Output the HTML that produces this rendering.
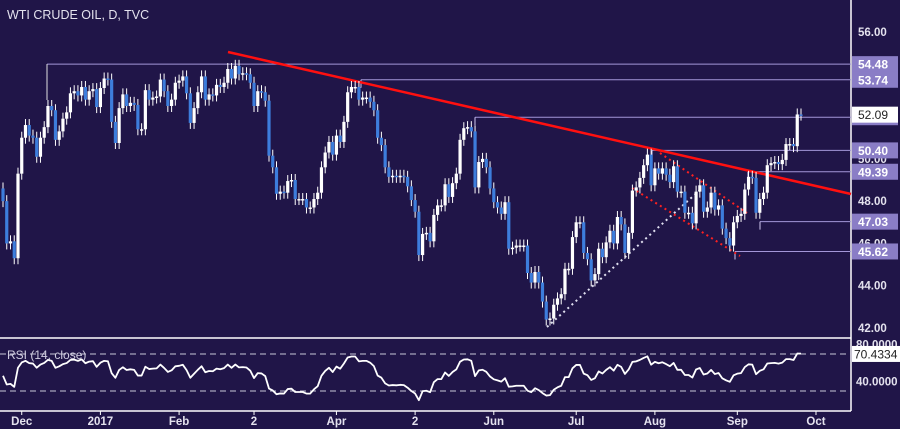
<!DOCTYPE html>
<html><head><meta charset="utf-8"><style>
html,body{margin:0;padding:0;background:#201548;}
svg{display:block;font-family:"Liberation Sans",sans-serif;}
</style></head><body>
<svg id="chart" width="900" height="429" viewBox="0 0 900 429">
<rect x="0" y="0" width="900" height="429" fill="#201548"/>
<text x="7" y="19" font-size="12.5" fill="#e4e2ee">WTI CRUDE OIL, D, TVC</text>
<g id="main"></g>
</svg>
<script>
const closes = [48.0,46.0,46.1,45.3,49.3,51.0,51.6,51.1,51.0,50.1,51.0,51.5,52.5,52.3,50.9,51.3,51.9,52.2,53.1,53.2,53.0,53.4,52.8,53.2,53.3,
52.45,53.35,53.8,53.75,51.75,50.75,52.4,53.05,52.5,52.65,52.55,51.4,51.4,53.25,52.8,52.9,52.95,53.75,53.2,52.5,52.8,53.6,53.7,53.9,53.1,51.7,52.4,53.15,53.9,52.8,53.05,53.0,53.5,53.4,53.6,54.25,53.8,54.4,54.0,54.05,54.0,53.6,52.5,53.2,53.15,52.75,50.15,49.6,48.35,48.45,48.4,
48.95,49.0,48.1,48.1,48.1,47.7,47.7,48.1,48.4,49.6,50.3,50.8,50.2,51.1,50.8,51.75,53.15,53.4,53.4,52.8,52.9,52.9,52.7,52.3,51.0,50.65,49.6,49.15,49.2,49.15,49.2,49.15,48.7,48.05,47.5,45.45,46.45,46.5,46.1,47.35,47.8,47.8,48.8,48.2,48.85,49.3,50.9,51.45,51.5,51.3,48.65,49.85,50.0,49.6,48.6,47.95,47.7,47.4,47.95,45.75,45.8,45.9,45.9,45.9,44.6,44.15,44.65,44.15,43.25,42.4,42.45,43.1,43.4,43.6,44.8,44.8,46.3,47.0,47.0,45.55,45.25,44.25,44.55,45.75,45.35,46.05,46.6,46.0,
47.25,46.9,45.55,46.5,48.5,48.65,49.1,49.7,50.2,48.75,49.55,49.3,49.55,49.25,48.9,49.65,48.45,48.45,47.45,47.45,46.95,48.45,48.75,47.5,47.7,48.4,47.6,47.8,46.7,46.25,45.9,47.0,47.3,47.4,48.55,49.15,49.1,47.45,48.1,48.4,49.7,49.8,49.85,49.75,49.95,50.7,50.7,50.6,52.1,52.09];
const firstOpen = 48.6;
const priceTicks = [56, 48, 44, 42, 50, 46];
const levelValues = [54.48, 53.74, 51.97, 50.40, 49.39, 47.03, 45.62];
const levelStartX = [47, 361, 475, 652, 748, 760, 735];
const dateLabels = ["Dec","2017","Feb","2","Apr","2","Jun","Jul","Aug","Sep","Oct"];
const dateBarIdx = [5,26,47,67,89,110,131,153,174,196,217];
const rsiTicks = [80, 40];
const lastClose = 52.09;

const NS="http://www.w3.org/2000/svg";
const g=document.getElementById('main');
function mk(tag,attrs,parent){const e=document.createElementNS(NS,tag);for(const k in attrs)e.setAttribute(k,attrs[k]);(parent||g).appendChild(e);return e;}
const AX=851, step=798/(closes.length-1);
const xOf=i=>3+i*step;
const yOf=p=>32+(56-p)*21.143;
const rY=v=>381.7-(v-40)*0.925;

let e;
e=mk('line',{x1:0,y1:338,x2:AX,y2:338,stroke:'#ffffff','stroke-width':1.5});

e=mk('line',{x1:0,y1:411,x2:AX,y2:411,stroke:'#ffffff','stroke-width':1.5});

e=mk('line',{x1:AX,y1:0,x2:AX,y2:411,stroke:'#ffffff','stroke-width':1.5});


priceTicks.forEach(p=>{
  const t=mk('text',{x:858,y:yOf(p)+4,'font-size':11.5,'font-weight':'bold',fill:'#e4e2ee'});
  t.textContent=p.toFixed(2);
  
});

dateLabels.forEach((d,k)=>{
  const x=xOf(dateBarIdx[k]);
  const tk=mk('line',{x1:x,y1:411,x2:x,y2:415,stroke:'#fff','stroke-width':1});
  
  const t=mk('text',{x:x,y:425,'font-size':11.5,'font-weight':'bold',fill:'#e4e2ee','text-anchor':'middle'});
  t.textContent=d;
  
});

levelValues.forEach((v,k)=>{
  const y=yOf(v), x0=levelStartX[k];
  const l=mk('line',{x1:x0,y1:y,x2:AX,y2:y,stroke:'#a396d8','stroke-width':1});
  
  const v2=mk('line',{x1:x0,y1:y,x2:x0,y2:y+8,stroke:'#d0c8f0','stroke-width':1});
  
});
{const l=mk('line',{x1:47,y1:yOf(54.48),x2:47,y2:100,stroke:'#e0e0e0','stroke-width':1});
}

e=mk('line',{x1:228,y1:52,x2:AX,y2:194,stroke:'#ff1010','stroke-width':2.5});

e=mk('line',{x1:547,y1:327,x2:700,y2:190,stroke:'#e0e0f0','stroke-width':2,'stroke-dasharray':'2 3.5'});

e=mk('line',{x1:660,y1:153,x2:747,y2:213,stroke:'#ff2020','stroke-width':2,'stroke-dasharray':'2 3.5'});

e=mk('line',{x1:632,y1:188,x2:740,y2:256,stroke:'#ff2020','stroke-width':2,'stroke-dasharray':'2 3.5'});


closes.forEach((c,i)=>{
  const o=i===0?firstOpen:closes[i-1];
  const up=c>=o, col=up?'#ffffff':'#3d7ddc';
  const x=xOf(i), top=yOf(Math.max(o,c)), bot=yOf(Math.min(o,c));
  const w=mk('line',{x1:x,y1:top-6,x2:x,y2:bot+6,stroke:'#ffffff','stroke-width':1});
  
  const b=mk('rect',{x:x-1.6,y:top,width:3.2,height:Math.max(1.5,bot-top),fill:col});
  
});

levelValues.forEach(v=>{
  const y=yOf(v);
  const r=mk('rect',{x:852,y:y-8,width:46,height:16,fill:'#8a7dc6'});
  
  const t=mk('text',{x:858,y:y+4.5,'font-size':12,'font-weight':'bold',fill:'#ffffff'});
  t.textContent=v.toFixed(2);
  
});
{const y=yOf(lastClose);
 const r=mk('rect',{x:852,y:y-8,width:46,height:16,fill:'#ffffff'});
 
 const t=mk('text',{x:858,y:y+4.5,'font-size':12,fill:'#222'});t.textContent=lastClose.toFixed(2);
 }

// RSI (Wilder, seeded neutral)
const rsi=[];let ag=0.3,al=0.3;
closes.forEach((c,i)=>{
  const o=i===0?firstOpen:closes[i-1];const d=c-o;
  ag=(ag*13+Math.max(d,0))/14; al=(al*13+Math.max(-d,0))/14;
  rsi.push(al===0?100:100-100/(1+ag/al));
});
[70,30].forEach(v=>{
  const l=mk('line',{x1:0,y1:rY(v),x2:AX,y2:rY(v),stroke:'#c8c8d8','stroke-width':1,'stroke-dasharray':'6 4'});
  
});
e=mk('text',{x:7,y:359,'font-size':12,fill:'#d0cde0'});e.textContent='RSI (14, close)';

e=mk('polyline',{points:rsi.map((v,i)=>xOf(i)+','+rY(v)).join(' '),fill:'none',stroke:'#ffffff','stroke-width':1.8,'stroke-linejoin':'round'});

rsiTicks.forEach(v=>{
  const t=mk('text',{x:856,y:rY(v)+4,'font-size':11.5,'font-weight':'bold',fill:'#e4e2ee'});
  t.textContent=v.toFixed(4);
  
});
{const r=mk('rect',{x:852,y:rY(70)-8,width:48,height:16,fill:'#ffffff'});
 
 const t=mk('text',{x:854,y:rY(70)+4.5,'font-size':12,fill:'#222'});t.textContent='70.4334';
 }
</script>
</body></html>
